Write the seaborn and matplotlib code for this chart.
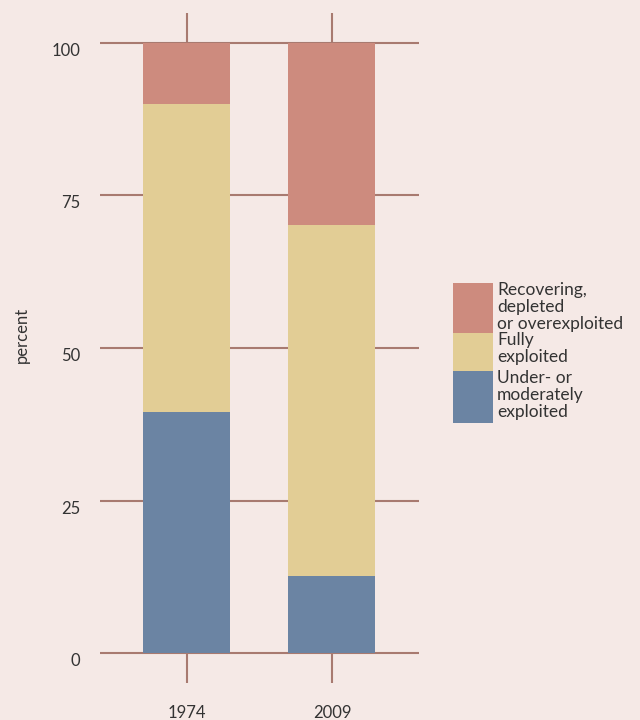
import numpy as np
import pandas as pd
import matplotlib
matplotlib.use("Agg")
import matplotlib.pyplot as plt
import seaborn as sns
from matplotlib.patches import Rectangle

years = ["1974", "2009"]
under = [39.5, 12.7]
fully = [50.5, 57.4]
recovering = [10.0, 29.9]

labels = ["Recovering,\ndepleted\nor overexploited", "Fully\nexploited", "Under- or\nmoderately\nexploited"]
colors = ["#cd8b7e", "#e2cd95", "#6b84a3"]
bg = "#f5e9e6"
grid_c = "#a87a70"
text_c = "#333333"

sns.set_theme(style="white")
plt.rcParams["font.family"] = ["Lato", "DejaVu Sans"]

df = pd.DataFrame({"year": years, "under": under, "fully": fully, "recovering": recovering})
df["top_fully"] = df["under"] + df["fully"]
df["top_all"] = df["top_fully"] + df["recovering"]

fig = plt.figure(figsize=(6.4, 7.2), dpi=100, facecolor=bg)
ax = fig.add_axes([0.15625, 0.0514, 0.4984, 0.9306])
ax.set_facecolor(bg)

# stacked bars: draw cumulative totals, tallest first
for col, c in zip(["top_all", "top_fully", "under"], colors):
    sns.barplot(data=df, x="year", y=col, color=c, width=0.6, saturation=1, ax=ax,
                zorder=2, edgecolor="none", linewidth=0)

ax.set_ylim(-4.9, 104.9)
ax.set_xlim(-0.6, 1.6)
ax.set_yticks([0, 25, 50, 75, 100])
ax.grid(True, color=grid_c, linewidth=1.5, zorder=0)
ax.set_axisbelow(True)
for s in ax.spines.values():
    s.set_visible(False)
ax.tick_params(length=0, labelsize=12, labelcolor=text_c)
ax.tick_params(axis="y", pad=14)
ax.tick_params(axis="x", pad=16)
for t in ax.get_yticklabels():
    t.set_va("top")
ax.set_xlabel("")
ax.set_ylabel("percent", color=text_c, fontsize=12)
ax.yaxis.set_label_coords(-0.22, 0.52)

# legend drawn as tall colour blocks beside multi-line labels
px = lambda v: v / 640
py = lambda v: 1 - v / 720
blocks = [(283, 333), (333, 371), (371, 423)]
for (t, b), c, lab in zip(blocks, colors, labels):
    fig.patches.append(Rectangle((px(453), py(b)), px(40), (b - t) / 720,
                                 transform=fig.transFigure, facecolor=c, edgecolor="none"))
    fig.text(px(497), py(t) + 0.002, lab, ha="left", va="top", fontsize=12.5,
             color=text_c, linespacing=1.08)

fig.savefig("out.png", dpi=100, facecolor=bg)
